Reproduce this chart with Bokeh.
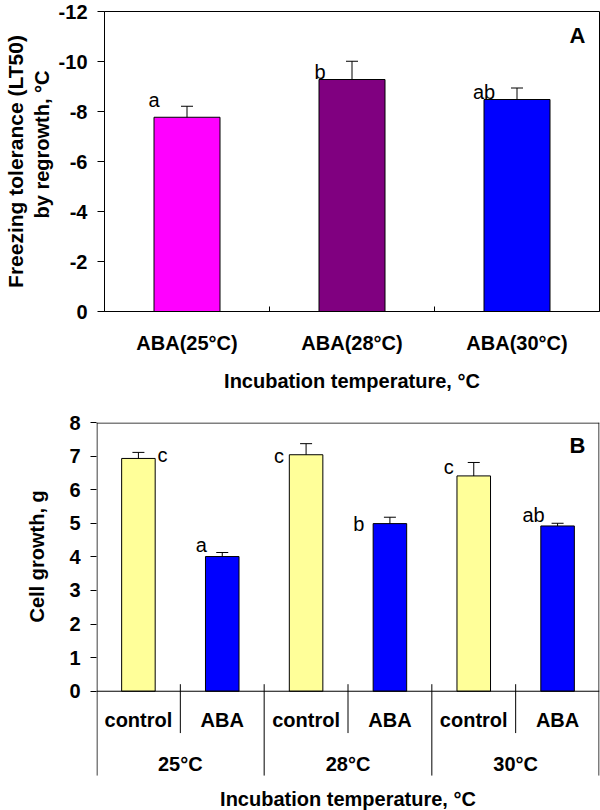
from bokeh.plotting import figure
from bokeh.models import (FactorRange, Range1d, FixedTicker, Whisker, TeeHead,
                          ColumnDataSource, Label, Title, Span, CustomJSTickFormatter)
from bokeh.layouts import column
from bokeh.embed import file_html
from bokeh.resources import INLINE
from bokeh.core.properties import value

FONT = "Liberation Sans"

# ---------------- Panel A data ----------------
aba_labels = ["ABA(25°C)", "ABA(28°C)", "ABA(30°C)"]
lt50 = [-7.77, -9.28, -8.48]
lt50_err = [0.44, 0.73, 0.46]
lt50_letters = ["a", "b", "ab"]
lt50_ticks = [0, -2, -4, -6, -8, -10, -12]

# ---------------- Panel B data ----------------
temps = ["25°C", "28°C", "30°C"]
treatments = ["control", "ABA"]
growth_control = [6.93, 7.04, 6.41]
growth_aba = [4.01, 4.99, 4.92]
err_control = [0.18, 0.33, 0.40]
err_aba = [0.12, 0.19, 0.08]
letters_control = ["c", "c", "c"]
letters_aba = ["a", "b", "ab"]
growth_ticks = [0, 1, 2, 3, 4, 5, 6, 7, 8]

# ---------------- styles ----------------
lt50_colors = ["#FF00FF", "#800080", "#0000FF"]
treat_colors = {"control": "#FFFF99", "ABA": "#0000FF"}
lt50_dx = [-33, -32, -33]
lt50_dy = [-17, -8, -8]
growth_dx = [24, -21, -27, -31, -25, -24]
growth_dy = [-3, -12, 1, 0, -9, -11]

TICK_FS = "20px"
TITLE_FS = "20px"
plain = CustomJSTickFormatter(code="return tick.toString()")


def style_common(p):
    p.xgrid.visible = False
    p.ygrid.visible = False
    p.background_fill_color = "white"
    p.border_fill_color = "white"
    try:
        p.frame_align = False
    except Exception:
        pass


def style_yaxis(ax, ticks, tick_out, standoff):
    ax.ticker = FixedTicker(ticks=ticks)
    ax.formatter = plain
    ax.minor_tick_line_color = None
    ax.major_tick_out = tick_out
    ax.major_tick_in = 0
    ax.major_tick_line_color = "black"
    ax.major_label_standoff = standoff
    ax.major_label_text_font = FONT
    ax.major_label_text_font_style = "bold"
    ax.major_label_text_font_size = TICK_FS
    ax.major_label_text_color = "black"


# ================= Panel A =================
pa = figure(x_range=FactorRange(factors=aba_labels, range_padding=0),
            y_range=Range1d(0, -12), width=600, height=408,
            output_backend="svg", toolbar_location=None,
            min_border_left=104, min_border_right=1, min_border_top=11,
            min_border_bottom=97)
style_common(pa)
pa.outline_line_color = "black"
pa.outline_line_width = 1

src_a = ColumnDataSource(dict(
    x=aba_labels, top=lt50, color=lt50_colors,
    upper=[v - e for v, e in zip(lt50, lt50_err)],
    lower=[v + e for v, e in zip(lt50, lt50_err)],
    letter=lt50_letters, dx=lt50_dx, dy=lt50_dy))
pa.vbar(x="x", top="top", bottom=0, width=0.4, fill_color="color",
        line_color="black", line_width=1, source=src_a)
pa.add_layout(Whisker(source=src_a, base="x", upper="upper", lower="lower",
                      line_color="black", line_width=1,
                      upper_head=TeeHead(size=12, line_color="black", line_width=1),
                      lower_head=TeeHead(size=12, line_color="black", line_width=1)))
pa.text(x="x", y="top", text="letter", x_offset="dx", y_offset="dy",
        text_align="center", text_baseline="alphabetic",
        text_font=value(FONT), text_font_size="20px", text_color="black",
        source=src_a)

bounds_a = list(range(1, len(aba_labels)))
pa.segment(x0=bounds_a, x1=bounds_a, y0=[0] * len(bounds_a),
           y1=[-0.2] * len(bounds_a), line_color="black", line_width=1)

xa = pa.xaxis[0]
xa.major_tick_line_color = None
xa.major_tick_out = 0
xa.major_tick_in = 0
xa.axis_line_color = "black"
xa.major_label_text_font = FONT
xa.major_label_text_font_style = "bold"
xa.major_label_text_font_size = TICK_FS
xa.major_label_text_color = "black"
xa.major_label_standoff = 20
xa.axis_label = "Incubation temperature, °C"
xa.axis_label_text_font = FONT
xa.axis_label_text_font_style = "bold"
xa.axis_label_text_font_size = TITLE_FS
xa.axis_label_text_color = "black"
xa.axis_label_standoff = 13

style_yaxis(pa.yaxis[0], lt50_ticks, 7, 10)
pa.yaxis[0].axis_line_color = "black"

pa.add_layout(Title(text="by regrowth, °C", align="left", offset=93,
                    vertical_align="middle",
                    text_font=FONT, text_font_style="bold",
                    text_font_size="20px", text_color="black", standoff=4), "left")
pa.add_layout(Title(text="Freezing tolerance (LT50)", align="center",
                    vertical_align="middle",
                    text_font=FONT, text_font_style="bold",
                    text_font_size="21px", text_color="black", standoff=0), "left")

pa.add_layout(Label(x=473, y=276, x_units="screen", y_units="screen", text="A",
                    text_font=FONT, text_font_style="bold", text_font_size="22px",
                    text_align="center", text_baseline="middle", text_color="black"))

# ================= Panel B =================
factors = [(t, tr) for t in temps for tr in treatments]
growth, gerr, letters, colors = [], [], [], []
for i in range(len(temps)):
    growth += [growth_control[i], growth_aba[i]]
    gerr += [err_control[i], err_aba[i]]
    letters += [letters_control[i], letters_aba[i]]
    colors += [treat_colors["control"], treat_colors["ABA"]]

Y_BOTTOM = -3.55     # frame extended below zero to host the category axis
pb = figure(x_range=FactorRange(*factors, group_padding=0, factor_padding=0,
                                subgroup_padding=0, range_padding=0),
            y_range=Range1d(Y_BOTTOM, 8), width=600, height=402,
            output_backend="svg", toolbar_location=None,
            min_border_left=96, min_border_right=1, min_border_top=14,
            min_border_bottom=0)
style_common(pb)
pb.outline_line_color = None

src_b = ColumnDataSource(dict(
    x=factors, top=growth, color=colors,
    upper=[v + e for v, e in zip(growth, gerr)],
    lower=[v - e for v, e in zip(growth, gerr)],
    letter=letters, dx=growth_dx, dy=growth_dy))
pb.vbar(x="x", top="top", bottom=0, width=0.4, fill_color="color",
        line_color="black", line_width=1, source=src_b)
pb.add_layout(Whisker(source=src_b, base="x", upper="upper", lower="lower",
                      line_color="black", line_width=1,
                      upper_head=TeeHead(size=12, line_color="black", line_width=1),
                      lower_head=TeeHead(size=12, line_color="black", line_width=1)))
pb.text(x="x", y="top", text="letter", x_offset="dx", y_offset="dy",
        text_align="center", text_baseline="alphabetic",
        text_font=value(FONT), text_font_size="20px", text_color="black",
        source=src_b)

# frame lines and category axis, drawn inside the extended frame
n = len(factors)
k = len(treatments)
AX_LOW = -2.51
EPS = 0.006
pb.add_layout(Span(location=0, dimension="width", line_color="black", line_width=1))
pb.segment(x0=[EPS, n - EPS, 0], x1=[EPS, n - EPS, n],
           y0=[8, 8, 7.985], y1=[AX_LOW, AX_LOW, 7.985],
           line_color="black", line_width=1)
sub_b = [i for i in range(1, n) if i % k != 0]
grp_b = [i for i in range(1, n) if i % k == 0]
pb.segment(x0=sub_b, x1=sub_b, y0=[0.21] * len(sub_b), y1=[-1.245] * len(sub_b),
           line_color="black", line_width=1)
pb.segment(x0=grp_b, x1=grp_b, y0=[0.21] * len(grp_b), y1=[AX_LOW] * len(grp_b),
           line_color="black", line_width=1)
pb.text(x=factors, y=[-0.87] * n, text=[f[1] for f in factors],
        text_align="center", text_baseline="middle",
        text_font=value(FONT), text_font_style="bold", text_font_size=TICK_FS,
        text_color="black")
pb.text(x=temps, y=[-2.16] * len(temps), text=temps,
        text_align="center", text_baseline="middle",
        text_font=value(FONT), text_font_style="bold", text_font_size=TICK_FS,
        text_color="black")
pb.text(x=[n / 2], y=[-3.2], text=["Incubation temperature, °C"],
        text_align="center", text_baseline="middle",
        text_font=value(FONT), text_font_style="bold", text_font_size=TITLE_FS,
        text_color="black")

pb.xaxis.visible = False
style_yaxis(pb.yaxis[0], growth_ticks, 6, 10)
pb.yaxis[0].axis_line_color = None

pb.add_layout(Title(text="Cell growth, g", align="left", offset=188,
                    vertical_align="middle",
                    text_font=FONT, text_font_style="bold",
                    text_font_size=TITLE_FS, text_color="black", standoff=36), "left")

pb.add_layout(Label(x=481, y=365, x_units="screen", y_units="screen", text="B",
                    text_font=FONT, text_font_style="bold", text_font_size="22px",
                    text_align="center", text_baseline="middle", text_color="black"))

layout = column(pa, pb, spacing=0)
open("out.html", "w").write(file_html(layout, INLINE))
